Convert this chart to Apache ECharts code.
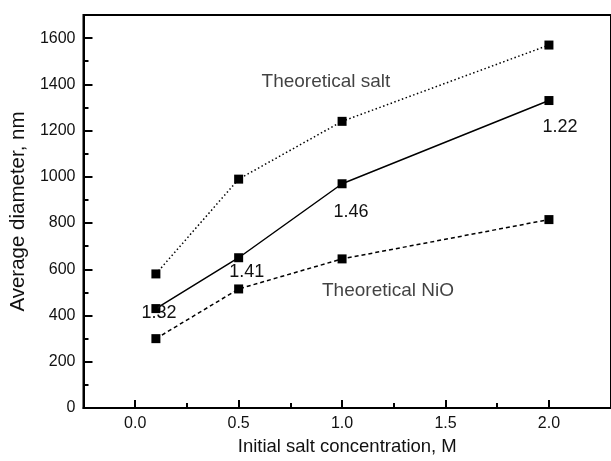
<!DOCTYPE html>
<html>
<head>
<meta charset="utf-8">
<script src="https://cdn.jsdelivr.net/npm/echarts@6/dist/echarts.min.js"></script>
<style>html,body{margin:0;padding:0;background:#fff}#c{width:611px;height:461px}</style>
</head>
<body>
<div id="c"></div>
<script>
// Data
const concentrations = [0.1, 0.5, 1.0, 2.0];
const theoreticalSalt = [580, 990, 1240, 1570];
const measured = [430, 650, 970, 1330];
const theoreticalNiO = [300, 515, 645, 815];
const ratioLabels = ['1.32', '1.41', '1.46', '1.22'];
const xTickLabels = [0, 0.5, 1.0, 1.5, 2.0];
const xMinorTicks = [0.25, 0.75, 1.25, 1.75];
const yTickLabels = [0, 200, 400, 600, 800, 1000, 1200, 1400, 1600];
const yMinorTicks = [100, 300, 500, 700, 900, 1100, 1300, 1500];
const annotationTexts = ['Theoretical salt', 'Theoretical NiO'];
const annotationPos = [[0.922, 1410], [1.222, 506]];

const labelOffsets = [[3, 4], [8, 14], [9, 28], [11, 26]];
const FONT = 'Liberation Sans, Arial, sans-serif';
const chart = echarts.init(document.getElementById('c'));

function pts(ys) { return concentrations.map((x, i) => [x, ys[i]]); }

const commonX = { type: 'value', min: -0.25, max: 2.3, splitLine: { show: false } };
const commonY = { type: 'value', min: 0, max: 1700, splitLine: { show: false } };

chart.setOption({
  animation: false,
  grid: { left: 81, right: -5, top: 15, bottom: 53, show: true, borderColor: '#000', borderWidth: 2, backgroundColor: 'transparent' },
  xAxis: [
    Object.assign({}, commonX, {
      position: 'bottom',
      name: 'Initial salt concentration, M', nameLocation: 'middle', nameGap: 29,
      nameTextStyle: { fontFamily: FONT, fontSize: 18.5, color: '#111' },
      axisLine: { show: true, onZero: false, lineStyle: { color: '#000', width: 2 } },
      axisTick: { show: true, inside: true, length: 8, lineStyle: { color: '#000', width: 2 }, customValues: xTickLabels },
      axisLabel: { fontFamily: FONT, fontSize: 16, color: '#111', margin: 8, customValues: xTickLabels,
        formatter: v => Number(v).toFixed(1) }
    }),
    Object.assign({}, commonX, {
      position: 'bottom',
      axisLine: { show: false, onZero: false },
      axisTick: { show: true, inside: true, length: 5, lineStyle: { color: '#000', width: 2 }, customValues: xMinorTicks },
      axisLabel: { show: false }
    })
  ],
  yAxis: [
    Object.assign({}, commonY, {
      position: 'left',
      name: 'Average diameter, nm', nameLocation: 'middle', nameGap: 52,
      nameTextStyle: { fontFamily: FONT, fontSize: 20.5, color: '#111' },
      axisLine: { show: true, onZero: false, lineStyle: { color: '#000', width: 2 } },
      axisTick: { show: true, inside: true, length: 9, lineStyle: { color: '#000', width: 2 }, customValues: yTickLabels },
      axisLabel: { fontFamily: FONT, fontSize: 16, color: '#111', margin: 8, customValues: yTickLabels,
        formatter: v => String(v) }
    }),
    Object.assign({}, commonY, {
      position: 'left',
      axisLine: { show: false, onZero: false },
      axisTick: { show: true, inside: true, length: 5, lineStyle: { color: '#000', width: 2 }, customValues: yMinorTicks },
      axisLabel: { show: false }
    })
  ],
  series: [
    {
      type: 'line', data: pts(theoreticalSalt), symbol: 'rect', symbolSize: 9,
      itemStyle: { color: '#000' },
      lineStyle: { color: '#000', width: 1.5, type: [1.5, 2.5] }
    },
    {
      type: 'line', data: pts(measured).map((p, i) => ({
        value: p,
        label: { show: true, formatter: ratioLabels[i], offset: labelOffsets[i] }
      })),
      symbol: 'rect', symbolSize: 9,
      itemStyle: { color: '#000' },
      lineStyle: { color: '#000', width: 1.5 },
      label: { position: 'inside', fontFamily: FONT, fontSize: 18, color: '#111' }
    },
    {
      type: 'line', data: pts(theoreticalNiO), symbol: 'rect', symbolSize: 9,
      itemStyle: { color: '#000' },
      lineStyle: { color: '#000', width: 1.5, type: [4, 3] }
    },
    {
      type: 'scatter', symbolSize: 0, silent: true,
      data: annotationPos.map((p, i) => ({ value: p, name: annotationTexts[i] })),
      label: { show: true, position: 'inside', formatter: '{b}', fontFamily: FONT, fontSize: 19, color: '#111' }
    }
  ]
});
</script>
</body>
</html>
